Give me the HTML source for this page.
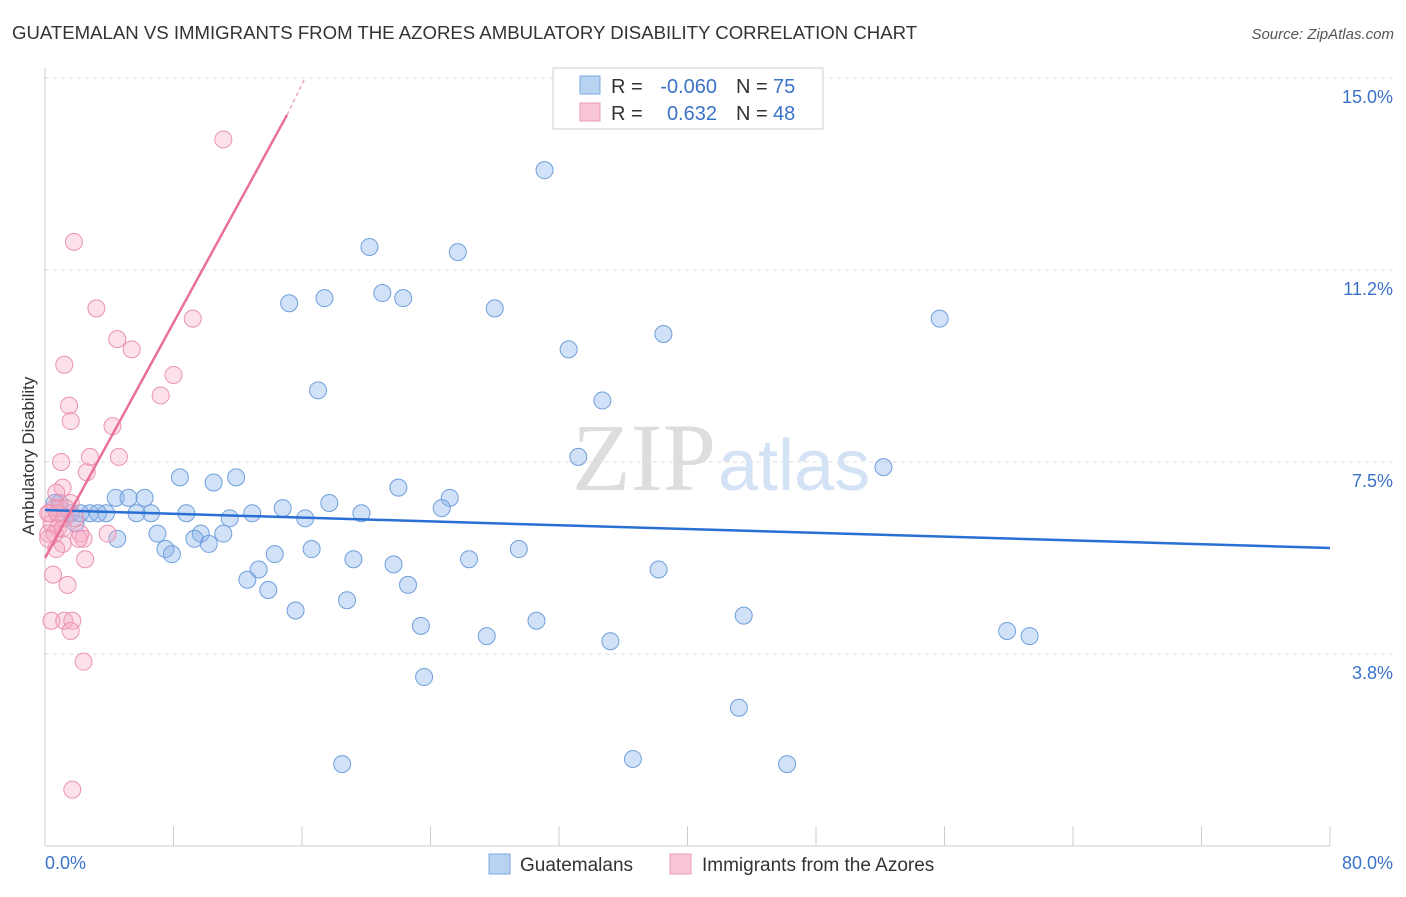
<!DOCTYPE html>
<html><head><meta charset="utf-8"><style>
body{margin:0;background:#fff;font-family:"Liberation Sans",sans-serif}
svg text{font-family:"Liberation Sans",sans-serif}
</style></head><body>
<svg width="1406" height="892" id="c">
<text x="12" y="39" font-size="18.6" fill="#333">GUATEMALAN VS IMMIGRANTS FROM THE AZORES AMBULATORY DISABILITY CORRELATION CHART</text>
<text x="1394" y="39" font-size="15" fill="#555" font-style="italic" text-anchor="end">Source: ZipAtlas.com</text>
<g id="grid"></g>
<text x="716" y="490" font-size="96" fill="#ddd" text-anchor="end" style="font-family:'Liberation Serif',serif">ZIP</text>
<text x="718" y="490" font-size="72" fill="#d3e2f4">atlas</text>
<line x1="45" y1="68" x2="45" y2="846" stroke="#ccc"/>
<line x1="45" y1="846" x2="1330" y2="846" stroke="#ccc"/>
<g id="ticks"></g>
<text x="45" y="869" font-size="18" fill="#3a72c8">0.0%</text>
<text x="1393" y="869" font-size="18" fill="#3a72c8" text-anchor="end">80.0%</text>
<text x="34" y="456" font-size="17" fill="#333" text-anchor="middle" transform="rotate(-90 34 456)">Ambulatory Disability</text>
<g id="pts"></g>
<g id="trend"></g>
<g>
<rect x="553" y="68" width="270" height="61" fill="#fff" stroke="#ccc"/>
<rect x="580" y="76" width="20" height="18" fill="#b8d2f2" stroke="#7ea8e0"/>
<rect x="580" y="103" width="20" height="18" fill="#f9c6d6" stroke="#eb9ab5"/>
<text x="611" y="93" font-size="20" fill="#333">R =</text>
<text x="717" y="93" font-size="20" fill="#3a72c8" text-anchor="end">-0.060</text>
<text x="736" y="93" font-size="20" fill="#333">N =</text>
<text x="773" y="93" font-size="20" fill="#3a72c8">75</text>
<text x="611" y="120" font-size="20" fill="#333">R =</text>
<text x="717" y="120" font-size="20" fill="#3a72c8" text-anchor="end">0.632</text>
<text x="736" y="120" font-size="20" fill="#333">N =</text>
<text x="773" y="120" font-size="20" fill="#3a72c8">48</text>
</g>
<g>
<rect x="489" y="854" width="21" height="20" fill="#b8d2f2" stroke="#7ea8e0"/>
<text x="520" y="871" font-size="19" fill="#333">Guatemalans</text>
<rect x="670" y="854" width="21" height="20" fill="#f9c6d6" stroke="#eb9ab5"/>
<text x="702" y="871" font-size="19" fill="#333">Immigrants from the Azores</text>
</g>
</svg>
<script>
const yTicks=[15.0,11.25,7.5,3.75];
const yTickLabels=["15.0%","11.2%","7.5%","3.8%"];
const xTicks=[0,8,16,24,32,40,48,56,64,72,80];
const blueX=[31.1,20.2,25.7,21.0,17.4,15.2,22.3,28.0,55.7,38.5,32.6,17.0,34.7,33.2,52.2,8.4,11.9,10.5,22.0,4.4,5.2,6.2,25.2,17.7,14.8,24.7,6.6,8.8,12.9,3.8,2.8,3.3,5.7,11.5,19.7,16.2,4.5,7.0,9.7,9.3,11.1,10.2,7.5,7.9,16.6,29.5,14.3,19.2,26.4,21.7,13.3,38.2,12.6,22.6,13.9,18.8,15.6,43.5,30.6,23.4,59.9,61.3,27.5,35.2,23.6,43.2,36.6,18.5,46.2,0.9,1.6,1.2,0.6,1.9,2.2];
const blueY=[13.2,11.7,11.6,10.8,10.7,10.6,10.7,10.5,10.3,10.0,9.7,8.9,8.7,7.6,7.4,7.2,7.2,7.1,7.0,6.8,6.8,6.8,6.8,6.7,6.6,6.6,6.5,6.5,6.5,6.5,6.5,6.5,6.5,6.4,6.5,6.4,6.0,6.1,6.1,6.0,6.1,5.9,5.8,5.7,5.8,5.8,5.7,5.6,5.6,5.5,5.4,5.4,5.2,5.1,5.0,4.8,4.6,4.5,4.4,4.3,4.2,4.1,4.1,4.0,3.3,2.7,1.7,1.6,1.6,6.7,6.5,6.4,6.7,6.3,6.5];
const pinkX=[11.1,1.8,3.2,9.2,4.5,5.4,1.2,8.0,7.2,1.5,1.6,4.2,4.6,2.8,1.0,2.6,1.1,0.7,1.6,0.6,0.3,0.9,1.2,0.4,0.8,0.2,1.9,2.2,1.1,0.7,3.9,2.4,2.1,2.5,0.5,1.4,0.4,1.2,1.7,1.6,2.4,1.7,0.2,0.6,1.1,0.2,1.3,0.8];
const pinkY=[13.8,11.8,10.5,10.3,9.9,9.7,9.4,9.2,8.8,8.6,8.3,8.2,7.6,7.6,7.5,7.3,7.0,6.9,6.7,6.6,6.5,6.6,6.4,6.3,6.2,6.1,6.4,6.1,5.9,5.8,6.1,6.0,6.0,5.6,5.3,5.1,4.4,4.4,4.4,4.2,3.6,1.1,6.5,6.1,6.2,6.0,6.6,6.5];
const NS="http://www.w3.org/2000/svg";
const X=v=>45+v*16.0625, Y=v=>78+(15-v)*51.2;
function mk(t,a,p){const e=document.createElementNS(NS,t);for(const k in a)e.setAttribute(k,a[k]);document.getElementById(p).appendChild(e);return e;}
yTicks.forEach((v,i)=>{
 const l=mk('line',{x1:45,x2:1393,y1:Y(v),y2:Y(v),stroke:'#ddd','stroke-dasharray':'4,4'},'grid');
 
 
 const t=mk('text',{x:1393,y:Y(v)+25,'font-size':18,fill:'#3a72c8','text-anchor':'end'},'grid');
 t.textContent=yTickLabels[i];
 
 
});
xTicks.forEach(v=>{
 const l=mk('line',{x1:X(v),x2:X(v),y1:826,y2:846,stroke:'#ccc'},'ticks');
 
 
});
blueX.forEach((v,i)=>{
 const c=mk('circle',{cx:X(v),cy:Y(blueY[i]),r:8.5,fill:'rgba(140,180,235,0.4)',stroke:'#6f9fdc','stroke-width':1},'pts');
 
 
});
pinkX.forEach((v,i)=>{
 const c=mk('circle',{cx:X(v),cy:Y(pinkY[i]),r:8.5,fill:'rgba(245,170,195,0.35)',stroke:'#eb92b0','stroke-width':1},'pts');
 
 
});
let l=mk('line',{x1:X(0),y1:510,x2:X(80),y2:548,stroke:'#2a6fd4','stroke-width':2.5},'trend');


l=mk('line',{x1:45,y1:558,x2:287,y2:115,stroke:'#e8709a','stroke-width':2.5},'trend');


l=mk('line',{x1:287,y1:115,x2:305,y2:78,stroke:'#f0a8c0','stroke-width':1.5,'stroke-dasharray':'4,3'},'trend');


</script>
</body></html>
